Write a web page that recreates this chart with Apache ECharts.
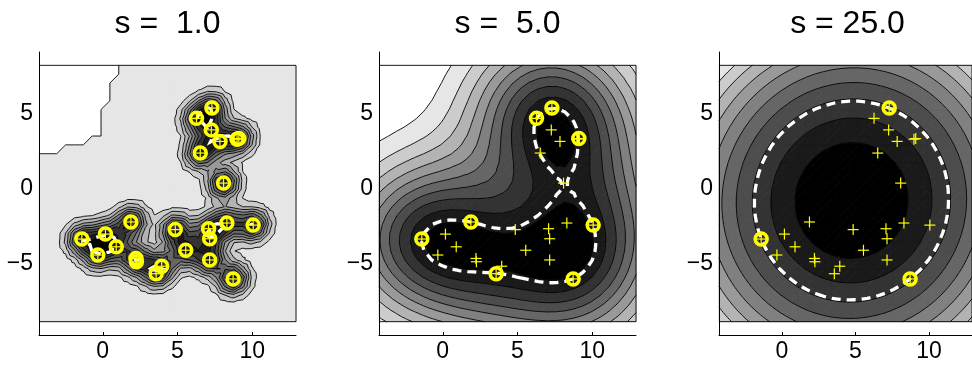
<!DOCTYPE html>
<html>
<head>
<meta charset="utf-8">
<script src="https://cdn.jsdelivr.net/npm/echarts@6/dist/echarts.min.js"></script>
<style>
  html, body { margin: 0; padding: 0; background: #fff; }
  #chart { width: 972px; height: 367px; }
</style>
</head>
<body>
<div id="chart"></div>
<script>
// Training objects
const pointX = [7.30, 6.27, 7.26, 7.84, 8.98, 9.10, 6.52, 8.08, 1.88, -1.40, 0.18, 0.90, -0.33,
                2.22, 2.25, 4.85, 5.55, 7.08, 7.15, 8.30, 10.06, 7.15, 3.94, 3.57, 8.72];
const pointY = [5.38, 4.69, 3.92, 3.15, 3.30, 3.34, 2.37, 0.36, -2.24, -3.38, -3.05, -3.90, -4.45,
                -4.68, -4.90, -2.75, -4.13, -2.69, -3.36, -2.31, -2.45, -4.78, -5.20, -5.70, -6.05];

// Gaussian kernel width of each data description
const widths = [1, 5, 25];
const titles = ['s =  1.0', 's =  5.0', 's = 25.0'];

// Support vectors of each description (indices into the point arrays)
const supportVectors = [
  [0, 1, 2, 3, 4, 5, 6, 7, 8, 9, 10, 11, 12, 13, 14, 15, 16, 17, 18, 19, 20, 21, 22, 23, 24],
  [0, 1, 5, 8, 9, 20, 23, 24],
  [0, 9, 24]
];

const xTicks = [0, 5, 10];
const yTicks = [-5, 0, 5];

// ---- layout / drawing settings ----
const GRID_N = 30;            // evaluation grid size
const N_LEVELS = 10;          // number of contour levels
const levelSpan = [1.0, 0.9, 1.0];   // part of the output range covered by the levels
const PANEL_LEFT = [39, 379, 719];
const PANEL_TOP = 52;
const PANEL_W = 257;
const PANEL_H = 283;
const FONT = "'Liberation Sans', Arial, Helvetica, sans-serif";

// evaluation domain: bounding box of the data, widened by a quarter of its range
const bx0 = Math.min(...pointX), bx1 = Math.max(...pointX);
const by0 = Math.min(...pointY), by1 = Math.max(...pointY);
const X0 = bx0 - 0.25 * (bx1 - bx0), X1 = bx1 + 0.25 * (bx1 - bx0);
const Y0 = by0 - 0.25 * (by1 - by0), Y1 = by1 + 0.25 * (by1 - by0);
const pxPerUnit = PANEL_W / (X1 - X0);
const yMid = (Y0 + Y1) / 2;
const yHalf = PANEL_H / 2 / pxPerUnit;

function kernel(x1, y1, x2, y2, s) {
  const dx = x1 - x2, dy = y1 - y2;
  return Math.exp(-(dx * dx + dy * dy) / (s * s));
}

function projectSimplex(v) {
  const u = [...v].sort((p, q) => q - p);
  let css = 0, theta = 0;
  for (let i = 0; i < u.length; i++) {
    css += u[i];
    const t = (css - 1) / (i + 1);
    if (u[i] - t > 0) theta = t;
  }
  return v.map(x => Math.max(x - theta, 0));
}

// SVDD dual: minimise a'Ka subject to a >= 0, sum(a) = 1
function trainSVDD(ids, s) {
  const n = ids.length;
  const K = ids.map(i => ids.map(j => kernel(pointX[i], pointY[i], pointX[j], pointY[j], s)));
  let a = new Array(n).fill(1 / n);
  const step = 1 / (2 * n);
  for (let it = 0; it < 20000; it++) {
    const g = new Array(n);
    for (let i = 0; i < n; i++) {
      let acc = 0;
      for (let j = 0; j < n; j++) acc += K[i][j] * a[j];
      g[i] = 2 * acc;
    }
    a = projectSimplex(a.map((v, i) => v - step * g[i]));
  }
  let aKa = 0;
  for (let i = 0; i < n; i++) for (let j = 0; j < n; j++) aKa += a[i] * a[j] * K[i][j];
  return { ids, alpha: a, s, aKa };
}

// squared distance to the centre of the description
function dist2(m, x, y) {
  let F = 0;
  for (let k = 0; k < m.ids.length; k++) {
    const id = m.ids[k];
    F += m.alpha[k] * kernel(x, y, pointX[id], pointY[id], m.s);
  }
  return (1 - 2 * F) + m.aKa;
}

function clipPoly(pts, c, sign) {
  const out = [];
  for (let i = 0; i < pts.length; i++) {
    const P = pts[i], Q = pts[(i + 1) % pts.length];
    const fp = sign * (P[2] - c), fq = sign * (Q[2] - c);
    if (fp >= 0) out.push(P);
    if ((fp >= 0) !== (fq >= 0)) {
      const t = fp / (fp - fq);
      out.push([P[0] + t * (Q[0] - P[0]), P[1] + t * (Q[1] - P[1]), c]);
    }
  }
  return out;
}

function polyArea(p) {
  let a = 0;
  for (let i = 0; i < p.length; i++) {
    const q = p[(i + 1) % p.length];
    a += p[i][0] * q[1] - q[0] * p[i][1];
  }
  return Math.abs(a) / 2;
}

function chainSegments(segs) {
  const key = p => p[0].toFixed(7) + ',' + p[1].toFixed(7);
  const adj = new Map();
  segs.forEach((s, i) => {
    [0, 1].forEach(e => {
      const k = key(s[e]);
      if (!adj.has(k)) adj.set(k, []);
      adj.get(k).push(i);
    });
  });
  const used = new Array(segs.length).fill(false);
  const lines = [];
  for (let i = 0; i < segs.length; i++) {
    if (used[i]) continue;
    used[i] = true;
    const line = [segs[i][0], segs[i][1]];
    for (const dir of [1, -1]) {
      for (;;) {
        const end = dir === 1 ? line[line.length - 1] : line[0];
        const ek = key(end);
        const cand = (adj.get(ek) || []).find(j => !used[j]);
        if (cand === undefined) break;
        used[cand] = true;
        const s = segs[cand];
        const next = key(s[0]) === ek ? s[1] : s[0];
        if (dir === 1) line.push(next); else line.unshift(next);
      }
    }
    lines.push(line);
  }
  return lines;
}

function buildContours(m, span) {
  const gx = [], gy = [];
  for (let i = 0; i < GRID_N; i++) {
    gx.push(X0 + i * (X1 - X0) / (GRID_N - 1));
    gy.push(Y0 + i * (Y1 - Y0) / (GRID_N - 1));
  }
  const V = new Array(GRID_N * GRID_N);
  const P = new Array(GRID_N * GRID_N);
  let zmin = Infinity, zmax = -Infinity;
  for (let j = 0; j < GRID_N; j++) {
    for (let i = 0; i < GRID_N; i++) {
      const id = j * GRID_N + i;
      V[id] = dist2(m, gx[i], gy[j]);
      P[id] = [gx[i], gy[j]];
      zmin = Math.min(zmin, V[id]);
      zmax = Math.max(zmax, V[id]);
    }
  }
  const zTop = span >= 1 ? zmax : zmin + span * (zmax - zmin);
  const levels = [];
  for (let k = 1; k < N_LEVELS; k++) levels.push(zmin + k * (zTop - zmin) / N_LEVELS);
  levels.push(zTop);

  const tris = [];
  for (let j = 0; j < GRID_N - 1; j++) {
    for (let i = 0; i < GRID_N - 1; i++) {
      const a = j * GRID_N + i, b = a + 1, c = a + GRID_N + 1, d = a + GRID_N;
      tris.push([a, b, c], [a, c, d]);
    }
  }
  const bandOf = v => { let b = 0; for (const L of levels) if (v >= L) b++; return b; };

  // filled bands
  const fills = [];
  for (const t of tris) {
    const vals = t.map(n => V[n]);
    const b0 = bandOf(Math.min(...vals)), b1 = bandOf(Math.max(...vals));
    const base = t.map(n => [P[n][0], P[n][1], V[n]]);
    if (b0 === b1) { fills.push({ band: b0, pts: base }); continue; }
    for (let b = b0; b <= b1; b++) {
      let poly = base;
      if (b > 0) poly = clipPoly(poly, levels[b - 1], 1);
      if (poly.length >= 3 && b < N_LEVELS) poly = clipPoly(poly, levels[b], -1);
      if (poly.length >= 3 && polyArea(poly) > 1e-10) fills.push({ band: b, pts: poly });
    }
  }

  function isoLines(L) {
    const segs = [];
    const cross = (p, q) => {
      const u = Math.min(p, q), w = Math.max(p, q);
      const t = (L - V[u]) / (V[w] - V[u]);
      return [P[u][0] + t * (P[w][0] - P[u][0]), P[u][1] + t * (P[w][1] - P[u][1])];
    };
    for (const t of tris) {
      const up = t.map(n => V[n] >= L);
      const nu = up.filter(Boolean).length;
      if (nu === 0 || nu === 3) continue;
      const pts = [];
      for (let e = 0; e < 3; e++) {
        const p = t[e], q = t[(e + 1) % 3];
        if (up[e] !== up[(e + 1) % 3]) pts.push(cross(p, q));
      }
      if (pts.length === 2) {
        const dx = pts[0][0] - pts[1][0], dy = pts[0][1] - pts[1][1];
        if (dx * dx + dy * dy > 1e-14) segs.push(pts);
      }
    }
    return chainSegments(segs);
  }

  let lines = [];
  for (const L of levels) lines = lines.concat(isoLines(L));
  // outline of the evaluation domain
  lines.push([[X0, Y1], [X1, Y1], [X1, Y0], [X0, Y0]]);

  // description boundary: distance of the support vectors
  let R2 = 0, nsv = 0;
  m.ids.forEach((id, k) => {
    if (m.alpha[k] > 1e-4) { R2 += dist2(m, pointX[id], pointY[id]); nsv++; }
  });
  R2 /= nsv;
  const boundary = isoLines(R2);
  return { fills, lines, boundary };
}

function grey(b) {
  const g = Math.round(255 * b / N_LEVELS);
  return 'rgb(' + g + ',' + g + ',' + g + ')';
}

const minus = v => (v < 0 ? '\u2212' + (-v) : String(v));

const grids = [], xAxes = [], yAxes = [], series = [], titleList = [];

widths.forEach((s, k) => {
  const model = trainSVDD(supportVectors[k], s);
  const c = buildContours(model, levelSpan[k]);

  grids.push({ left: PANEL_LEFT[k], top: PANEL_TOP, width: PANEL_W, height: PANEL_H, containLabel: false });
  titleList.push({
    text: titles[k], left: PANEL_LEFT[k] + PANEL_W / 2, top: 8, textAlign: 'center', padding: 0,
    textStyle: { fontFamily: FONT, fontSize: 32, fontWeight: 'normal', color: '#000' }
  });
  xAxes.push({
    gridIndex: k, type: 'value', min: X0, max: X1, z: 10,
    axisLine: { show: true, onZero: false, lineStyle: { color: '#000', width: 1 } },
    axisTick: { show: true, inside: true, length: 3, customValues: xTicks, lineStyle: { color: '#000' } },
    axisLabel: { customValues: xTicks, formatter: minus, fontFamily: FONT, fontSize: 23, color: '#000', margin: 5 },
    splitLine: { show: false }
  });
  yAxes.push({
    gridIndex: k, type: 'value', min: yMid - yHalf, max: yMid + yHalf, z: 10,
    axisLine: { show: true, onZero: false, lineStyle: { color: '#000', width: 1 } },
    axisTick: { show: false, customValues: yTicks },
    axisLabel: { customValues: yTicks, formatter: minus, fontFamily: FONT, fontSize: 23, color: '#000', margin: 6 },
    splitLine: { show: false }
  });

  const fills = c.fills, lines = c.lines, boundary = c.boundary;
  series.push({
    type: 'custom', xAxisIndex: k, yAxisIndex: k, z: 1, silent: true, progressive: 0,
    data: fills.map(f => [f.pts[0][0], f.pts[0][1]]),
    encode: { x: 0, y: 1 },
    renderItem: (params, api) => {
      const f = fills[params.dataIndex];
      const col = grey(f.band);
      return {
        type: 'polygon',
        shape: { points: f.pts.map(p => api.coord([p[0], p[1]])) },
        style: { fill: col, stroke: col, lineWidth: 1 }
      };
    }
  });
  series.push({
    type: 'custom', xAxisIndex: k, yAxisIndex: k, z: 2, silent: true, progressive: 0,
    data: lines.map(l => [l[0][0], l[0][1]]),
    encode: { x: 0, y: 1 },
    renderItem: (params, api) => ({
      type: 'polyline',
      shape: { points: lines[params.dataIndex].map(p => api.coord(p)) },
      style: { stroke: '#000', lineWidth: 0.9, fill: null }
    })
  });
  series.push({
    type: 'custom', xAxisIndex: k, yAxisIndex: k, z: 3, silent: true, progressive: 0,
    data: boundary.map(l => [l[0][0], l[0][1]]),
    encode: { x: 0, y: 1 },
    renderItem: (params, api) => ({
      type: 'polyline',
      shape: { points: boundary[params.dataIndex].map(p => api.coord(p)) },
      style: { stroke: '#fff', lineWidth: 3.3, lineDash: [9, 6], fill: null }
    })
  });
  // all objects: crosses
  series.push({
    type: 'custom', xAxisIndex: k, yAxisIndex: k, z: 4, silent: true, progressive: 0,
    data: pointX.map((x, i) => [x, pointY[i]]),
    encode: { x: 0, y: 1 },
    renderItem: (params, api) => {
      const p = api.coord([api.value(0), api.value(1)]);
      const h = 5.5;
      return {
        type: 'group', children: [
          { type: 'line', shape: { x1: p[0] - h, y1: p[1], x2: p[0] + h, y2: p[1] }, style: { stroke: '#ffff00', lineWidth: 1.2 } },
          { type: 'line', shape: { x1: p[0], y1: p[1] - h, x2: p[0], y2: p[1] + h }, style: { stroke: '#ffff00', lineWidth: 1.2 } }
        ]
      };
    }
  });
  // support vectors: circles
  series.push({
    type: 'custom', xAxisIndex: k, yAxisIndex: k, z: 5, silent: true, progressive: 0,
    data: supportVectors[k].map(i => [pointX[i], pointY[i]]),
    encode: { x: 0, y: 1 },
    renderItem: (params, api) => {
      const p = api.coord([api.value(0), api.value(1)]);
      return {
        type: 'circle', shape: { cx: p[0], cy: p[1], r: 6 },
        style: { fill: 'none', stroke: '#ffff00', lineWidth: 3.5 }
      };
    }
  });
});

const chart = echarts.init(document.getElementById('chart'), null, { renderer: 'canvas' });
chart.setOption({
  backgroundColor: '#fff',
  animation: false,
  title: titleList,
  grid: grids,
  xAxis: xAxes,
  yAxis: yAxes,
  series: series
});
</script>
</body>
</html>
